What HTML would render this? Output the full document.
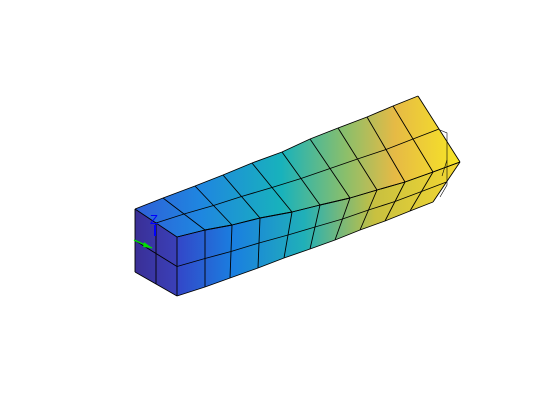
<!DOCTYPE html>
<html><head><meta charset="utf-8"><style>
html,body{margin:0;padding:0;background:#fff;width:560px;height:420px;overflow:hidden}
svg{display:block}
</style></head><body>
<svg id="fig" width="560" height="420" viewBox="0 0 560 420" xmlns="http://www.w3.org/2000/svg">
<defs>
<linearGradient id="gTop" gradientUnits="userSpaceOnUse" x1="135" y1="0" x2="460" y2="0">
<stop offset="0" stop-color="#2f5fd8"/><stop offset="0.2" stop-color="#1f86e0"/><stop offset="0.45" stop-color="#18b2bc"/><stop offset="0.65" stop-color="#8cbf6a"/><stop offset="0.8" stop-color="#e6ba45"/><stop offset="1" stop-color="#f7e625"/>
</linearGradient>
<linearGradient id="gFront" gradientUnits="userSpaceOnUse" x1="177" y1="0" x2="460" y2="0">
<stop offset="0" stop-color="#3346c8"/><stop offset="0.2" stop-color="#1a7fe0"/><stop offset="0.45" stop-color="#20b0b8"/><stop offset="0.7" stop-color="#c8c040"/><stop offset="1" stop-color="#f5d830"/>
</linearGradient>
<linearGradient id="gEnd" gradientUnits="userSpaceOnUse" x1="135" y1="0" x2="177" y2="0">
<stop offset="0" stop-color="#3a2f96"/><stop offset="1" stop-color="#3a40b8"/>
</linearGradient>
</defs>
<g id="mesh"></g>
<g stroke="#000" stroke-width="0.6" fill="none">
<polyline points="440,130 447,133 447,185 440,197"/>
<line x1="447" y1="160" x2="442" y2="176"/>
</g>
<g>
<line x1="155" y1="225" x2="155" y2="236" stroke="#0000ff" stroke-width="2"/>
<text x="150" y="224" font-family="Liberation Sans, sans-serif" font-size="13" fill="#0000ff">Z</text>
<line x1="134" y1="240" x2="152" y2="248" stroke="#00e000" stroke-width="1.5"/>
<polygon points="152,248 144,242 143,247" fill="#00e000"/>
</g>
</svg>
<script>
// edge node positions of the deformed beam (11 stations along length)
const backTop=[[135,209],[163,198],[195,186],[223,175],[252,163],[282,152],[310,139],[338,128],[367,117],[393,106],[418,96]];
const frontTop=[[177,237],[205,230],[232,225],[260,218],[292,212],[320,205],[350,198],[377,190],[405,182],[433,172],[460,162]];
const frontBot=[[177,296],[205,287],[230,278],[258,268],[284,258],[310,249],[335,240],[360,230],[385,221],[410,211],[433,202]];
const NS="http://www.w3.org/2000/svg";
const g=document.getElementById('mesh');
const lerp=(a,b,t)=>[a[0]+(b[0]-a[0])*t,a[1]+(b[1]-a[1])*t];
const pts=a=>a.map(p=>p[0].toFixed(1)+','+p[1].toFixed(1)).join(' ');
function poly(p,fill,name){const e=document.createElementNS(NS,'polygon');e.setAttribute('points',pts(p));e.setAttribute('fill',fill);e.setAttribute('stroke','none');


g.appendChild(e);}
function line(a,b,name){const e=document.createElementNS(NS,'line');e.setAttribute('x1',a[0]);e.setAttribute('y1',a[1]);e.setAttribute('x2',b[0]);e.setAttribute('y2',b[1]);e.setAttribute('stroke','#000');e.setAttribute('stroke-width','0.9');


g.appendChild(e);}
const n=backTop.length;
poly(backTop.concat(frontTop.slice().reverse()),'url(#gTop)','top-face');
poly(frontTop.concat(frontBot.slice().reverse()),'url(#gFront)','front-face');
poly([backTop[0],frontTop[0],frontBot[0],[135,272]],'url(#gEnd)','end-face');
// grid lines
for(let i=0;i<n;i++){
  line(backTop[i],frontTop[i],'top-grid-line');
  line(frontTop[i],frontBot[i],'front-grid-line');
}
for(const t of [0,0.5,1]){
  for(let i=0;i<n-1;i++){
    line(lerp(backTop[i],frontTop[i],t),lerp(backTop[i+1],frontTop[i+1],t),'top-long-line');
    line(lerp(frontTop[i],frontBot[i],t),lerp(frontTop[i+1],frontBot[i+1],t),'front-long-line');
  }
}
const eb=[135,272];
line(backTop[0],eb,'end-edge');line(eb,frontBot[0],'end-edge');
line(lerp(backTop[0],eb,0.5),lerp(frontTop[0],frontBot[0],0.5),'end-mid-line');
line(lerp(backTop[0],frontTop[0],0.5),lerp(eb,frontBot[0],0.5),'end-mid-line');
</script>
</body></html>
